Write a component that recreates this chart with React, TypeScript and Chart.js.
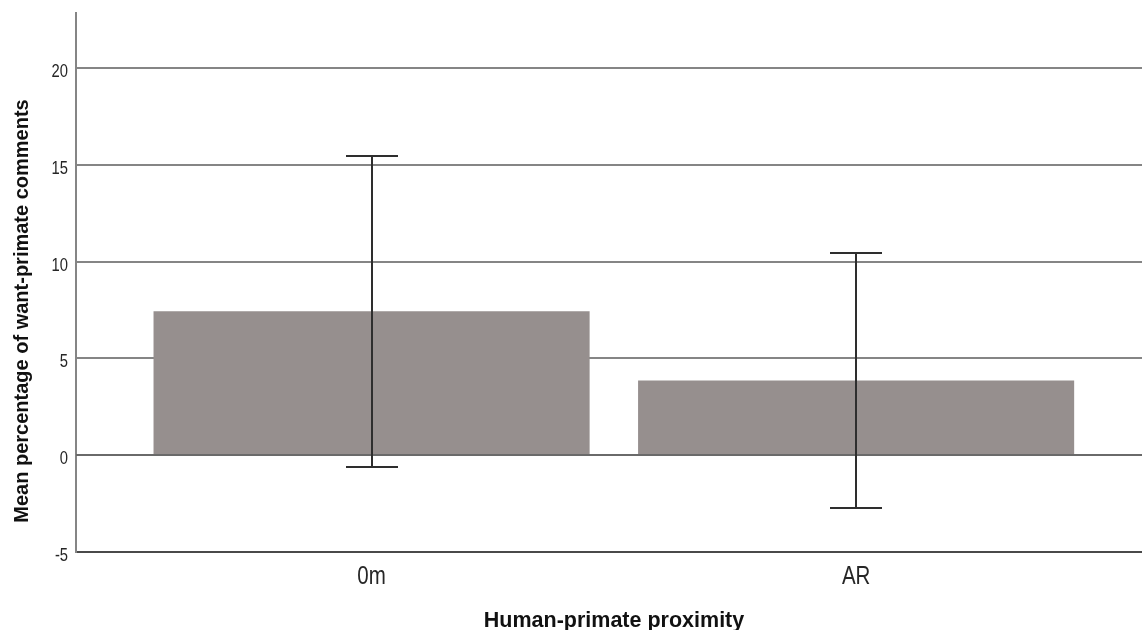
import { useEffect, useRef } from "react";
import { Chart, registerables } from "chart.js";

Chart.register(...registerables);

// Group labels and summary values (means with 95% CI bounds)
const categories = ["0m", "AR"];
const means = [7.43, 3.85];
const ciUpper = [15.46, 10.43];
const ciLower = [-0.6, -2.75];
const yTicks = [-5, 0, 5, 10, 15, 20];
const yMin = -5;
const yMax = 22.87;
const yTitle = "Mean percentage of want-primate comments";
const xTitle = "Human-primate proximity";

const BAR_COLOR = "#968f8e";
const GRID_COLOR = "#858585";
const TEXT_COLOR = "#262626";
const SANS = "'Liberation Sans', Arial, Helvetica, sans-serif";

// Draws error bars, the zero reference line, tick labels and axis titles.
const decorPlugin = {
  id: "spssDecor",
  afterDatasetsDraw(chart: any) {
    const { ctx, chartArea } = chart;
    const x = chart.scales.x;
    const y = chart.scales.y;
    ctx.save();
    // zero line runs over the bars
    const y0 = Math.round(y.getPixelForValue(0));
    ctx.strokeStyle = "#6a6a6a";
    ctx.lineWidth = 2;
    ctx.beginPath();
    ctx.moveTo(chartArea.left, y0);
    ctx.lineTo(chartArea.right, y0);
    ctx.stroke();

    // confidence-interval whiskers
    ctx.strokeStyle = "#2e2e2e";
    ctx.lineWidth = 2;
    const capHalf = 26;
    means.forEach((_, i) => {
      const cx = Math.round(x.getPixelForValue(i));
      const yt = Math.round(y.getPixelForValue(ciUpper[i]));
      const yb = Math.round(y.getPixelForValue(ciLower[i]));
      ctx.beginPath();
      ctx.moveTo(cx, yt);
      ctx.lineTo(cx, yb);
      ctx.moveTo(cx - capHalf, yt);
      ctx.lineTo(cx + capHalf, yt);
      ctx.moveTo(cx - capHalf, yb);
      ctx.lineTo(cx + capHalf, yb);
      ctx.stroke();
    });
    ctx.restore();
  },
  afterDraw(chart: any) {
    const { ctx, chartArea } = chart;
    const x = chart.scales.x;
    const y = chart.scales.y;
    ctx.save();
    ctx.fillStyle = TEXT_COLOR;
    ctx.textBaseline = "alphabetic";

    // y tick labels (narrow face)
    ctx.font = `18px ${SANS}`;
    ctx.textAlign = "right";
    yTicks.forEach((v) => {
      const py = y.getPixelForValue(v);
      ctx.save();
      ctx.translate(chartArea.left - 8, py + 9);
      ctx.scale(0.82, 1);
      ctx.fillText(String(v), 0, 0);
      ctx.restore();
    });

    // x tick labels (narrow face)
    ctx.font = `25px ${SANS}`;
    ctx.textAlign = "center";
    categories.forEach((c, i) => {
      const px = x.getPixelForValue(i);
      ctx.save();
      ctx.translate(px, chartArea.bottom + 32);
      ctx.scale(0.82, 1);
      ctx.fillText(c, 0, 0);
      ctx.restore();
    });

    // axis titles
    ctx.fillStyle = "#111111";
    ctx.font = `bold 20px ${SANS}`;
    ctx.save();
    ctx.translate(27.5, 311);
    ctx.rotate(-Math.PI / 2);
    ctx.textAlign = "center";
    ctx.fillText(yTitle, 0, 0);
    ctx.restore();

    ctx.font = `bold 21.5px ${SANS}`;
    ctx.textAlign = "center";
    ctx.fillText(xTitle, 614, 627);
    ctx.restore();
  },
};

export default function App() {
  const canvasRef = useRef<HTMLCanvasElement | null>(null);

  useEffect(() => {
    const canvas = canvasRef.current;
    if (!canvas) return;
    const chart = new Chart(canvas, {
      type: "bar",
      data: {
        datasets: [
          {
            data: means.map((m, i) => ({ x: i, y: m })),
            backgroundColor: BAR_COLOR,
            borderWidth: 0,
            categoryPercentage: 0.9,
            barPercentage: 1,
          },
        ],
      },
      options: {
        responsive: false,
        animation: false,
        events: [],
        layout: { padding: { top: 12.7, left: 0, right: 0, bottom: 0 } },
        plugins: {
          legend: { display: false },
          tooltip: { enabled: false },
          title: { display: false },
        },
        scales: {
          x: {
            type: "linear",
            offset: false,
            min: -0.61,
            max: 1.59,
            afterBuildTicks: (s: any) => {
              s.ticks = categories.map((_, i) => ({ value: i }));
            },
            afterFit: (s: any) => {
              s.height = 78.3;
            },
            grid: { display: false, offset: false, drawTicks: false },
            border: { display: true, color: "#4a4a4a", width: 2 },
            ticks: { display: false },
          },
          y: {
            min: yMin,
            max: yMax,
            afterBuildTicks: (s: any) => {
              s.ticks = yTicks.map((v) => ({ value: v }));
            },
            afterFit: (s: any) => {
              s.width = 76;
            },
            grid: {
              color: (c: any) =>
                c.tick && c.tick.value === yMin ? "rgba(0,0,0,0)" : GRID_COLOR,
              lineWidth: 2,
              drawTicks: false,
            },
            border: { display: true, color: GRID_COLOR, width: 2 },
            ticks: { display: false },
          },
        },
      },
      plugins: [decorPlugin],
    });
    return () => chart.destroy();
  }, []);

  return (
    <div
      style={{
        position: "fixed",
        left: 0,
        top: 0,
        width: 1142,
        height: 630,
        background: "#ffffff",
      }}
    >
      <canvas ref={canvasRef} width={1142} height={630} />
    </div>
  );
}
